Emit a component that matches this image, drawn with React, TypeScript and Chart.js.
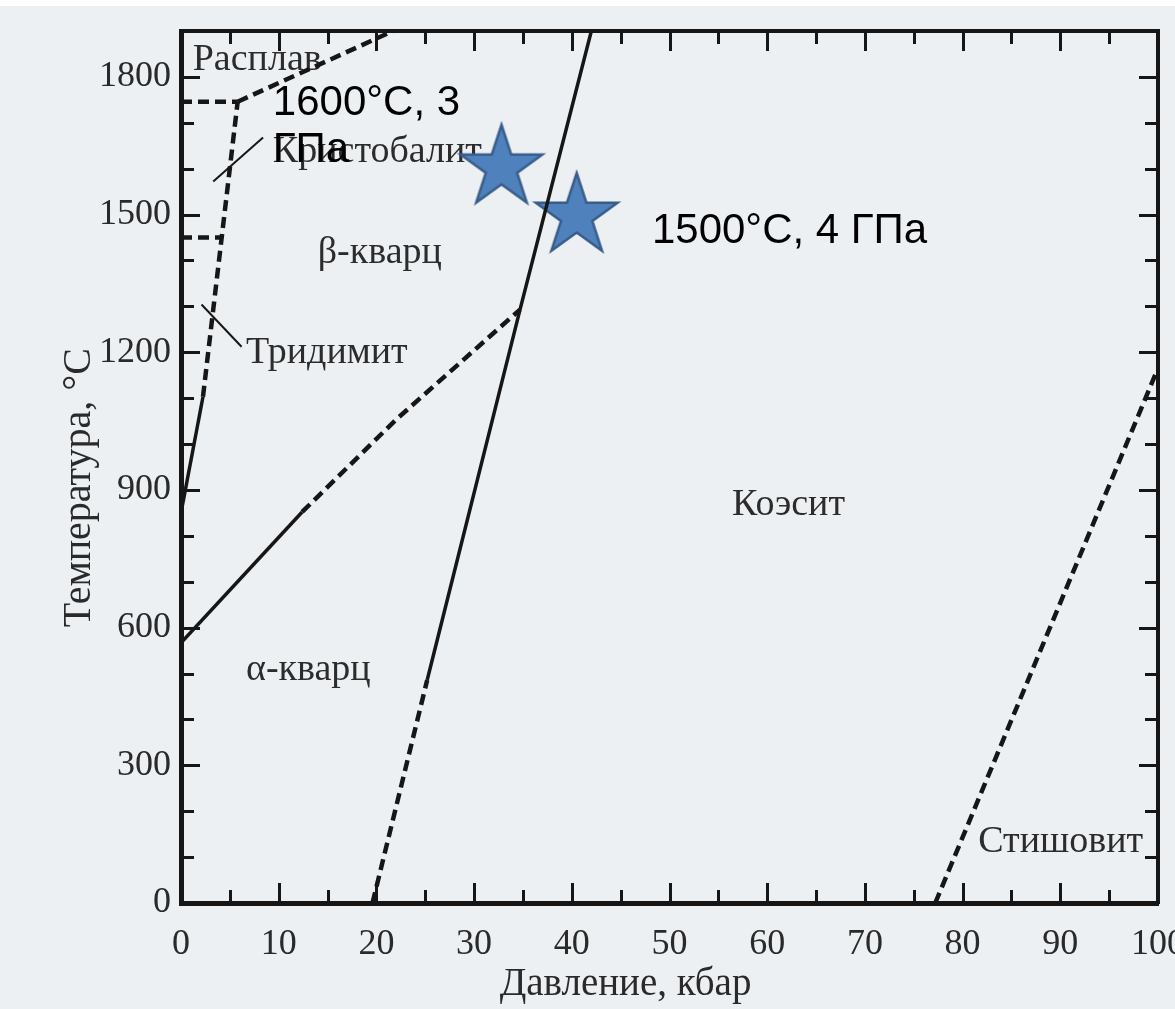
import React, { useEffect, useRef } from 'react';
import { Chart, registerables } from 'chart.js';

Chart.register(...registerables);

// ---- axis ticks ----
const X_TICKS = [0, 10, 20, 30, 40, 50, 60, 70, 80, 90, 100];
const X_MINOR = [5, 15, 25, 35, 45, 55, 65, 75, 85, 95];
const Y_TICKS = [0, 300, 600, 900, 1200, 1500, 1800];
const Y_MINOR = [100, 200, 400, 500, 700, 800, 1000, 1100, 1300, 1400, 1600, 1700];

// ---- phase boundaries (pressure kbar, temperature °C) ----
const coesiteLowP = [19.6, 25.2];
const coesiteLowT = [0, 486];
const coesiteHighP = [25.2, 34.7, 42.0];
const coesiteHighT = [486, 1293, 1900];

const alphaBetaSolidP = [0, 12.4];
const alphaBetaSolidT = [567, 852];
const alphaBetaDashP = [12.4, 22.0, 34.7];
const alphaBetaDashT = [852, 1053, 1293];

const tridymiteSolidP = [0, 2.25];
const tridymiteSolidT = [850, 1103];
const tridymiteDashP = [2.25, 5.8];
const tridymiteDashT = [1103, 1746];

const meltFlatP = [0, 5.8];
const meltFlatT = [1746, 1746];
const meltLineP = [5.8, 21.7];
const meltLineT = [1746, 1900];

const tridCristFlatP = [0, 4.1];
const tridCristFlatT = [1450, 1450];

const stishoviteP = [77.2, 99.8];
const stishoviteT = [0, 1155];

// leader lines of the labels
const leaderCristP = [3.3, 8.4];
const leaderCristT = [1572, 1668];
const leaderTridP = [2.1, 6.2];
const leaderTridT = [1304, 1212];

// ---- experiment points ----
const expP = [32.8, 40.5];
const expT = [1602, 1497];

// ---- phase labels (anchor = left / baseline, in data units) ----
const phaseNames = ['Расплав', 'Кристобалит', 'β-кварц', 'Тридимит', 'α-кварц', 'Коэсит', 'Стишовит'];
const phaseP = [1.2, 9.4, 14.0, 6.65, 6.65, 56.4, 81.6];
const phaseT = [1816, 1615, 1395, 1177, 486, 846, 111];

// ---- overlay notes ----
const noteTexts = ['1600°C, 3', 'ГПа', '1500°C, 4 ГПа'];
const noteP = [9.4, 9.4, 48.2];
const noteT = [1718, 1615, 1439];

const xTitle = 'Давление, кбар';
const yTitle = 'Температура, °С';

const pts = (P: number[], T: number[]) => P.map((p, i) => ({ x: p, y: T[i] }));

const INK = '#161616';

function makeStar(): HTMLCanvasElement {
  const R = 43;
  const r = 16.5;
  const size = 96;
  const c = document.createElement('canvas');
  c.width = size;
  c.height = size;
  const g = c.getContext('2d')!;
  const cx = size / 2;
  const cy = size / 2;
  g.beginPath();
  for (let i = 0; i < 10; i++) {
    const rad = i % 2 ? r : R;
    const a = -Math.PI / 2 + (i * Math.PI) / 5;
    const px = cx + rad * Math.cos(a);
    const py = cy + rad * Math.sin(a);
    if (i === 0) g.moveTo(px, py);
    else g.lineTo(px, py);
  }
  g.closePath();
  g.fillStyle = '#4f81bd';
  g.fill();
  g.lineWidth = 2.5;
  g.lineJoin = 'miter';
  g.strokeStyle = '#385d8a';
  g.stroke();
  return c;
}

const zeroPad = (s: any) => {
  s.paddingTop = 0;
  s.paddingBottom = 0;
  s.paddingLeft = 0;
  s.paddingRight = 0;
};

export default function App() {
  const ref = useRef<HTMLCanvasElement | null>(null);

  useEffect(() => {
    if (!ref.current) return;
    const star = makeStar();

    const solid = (data: any[], w = 3.5) => ({
      data,
      showLine: true,
      borderColor: INK,
      borderWidth: w,
      pointRadius: 0,
      borderCapStyle: 'butt',
      tension: 0,
    });
    const dashed = (data: any[]) => ({
      data,
      showLine: true,
      borderColor: INK,
      borderWidth: 4.5,
      borderDash: [11, 6],
      pointRadius: 0,
      borderCapStyle: 'butt',
      tension: 0,
    });

    const decor = {
      id: 'decor',
      beforeDraw(chart: any) {
        const { ctx, width, height } = chart;
        ctx.save();
        ctx.fillStyle = '#edf0f3';
        ctx.fillRect(0, 0, width, height);
        ctx.fillStyle = '#ffffff';
        ctx.fillRect(0, 0, width, 6);
        ctx.restore();
      },
      beforeDatasetsDraw(chart: any) {
        const { ctx } = chart;
        const xs = chart.scales.x;
        const ys = chart.scales.y;
        ctx.save();
        ctx.fillStyle = '#2c2c2c';
        ctx.font = '38px "Liberation Serif"';
        ctx.textAlign = 'left';
        ctx.textBaseline = 'alphabetic';
        phaseNames.forEach((t, i) => {
          ctx.fillText(t, xs.getPixelForValue(phaseP[i]), ys.getPixelForValue(phaseT[i]));
        });
        ctx.restore();
      },
      afterDatasetsDraw(chart: any) {
        const { ctx, chartArea } = chart;
        const xs = chart.scales.x;
        const ys = chart.scales.y;
        ctx.save();
        // inward tick marks on all four sides
        ctx.strokeStyle = INK;
        ctx.lineWidth = 3;
        const xt = [...X_TICKS.map((v) => [v, 20]), ...X_MINOR.map((v) => [v, 13])];
        xt.forEach(([v, len]) => {
          if (v <= xs.min || v >= xs.max) return;
          const px = Math.round(xs.getPixelForValue(v)) + 0.5;
          ctx.beginPath();
          ctx.moveTo(px, chartArea.bottom);
          ctx.lineTo(px, chartArea.bottom - len);
          ctx.moveTo(px, chartArea.top);
          ctx.lineTo(px, chartArea.top + len);
          ctx.stroke();
        });
        const yt = [...Y_TICKS.map((v) => [v, 19]), ...Y_MINOR.map((v) => [v, 13])];
        yt.forEach(([v, len]) => {
          if (v <= ys.min || v >= ys.max) return;
          const py = Math.round(ys.getPixelForValue(v)) + 0.5;
          ctx.beginPath();
          ctx.moveTo(chartArea.left, py);
          ctx.lineTo(chartArea.left + len, py);
          ctx.moveTo(chartArea.right, py);
          ctx.lineTo(chartArea.right - len, py);
          ctx.stroke();
        });

        // axis titles
        ctx.fillStyle = '#2a2a2a';
        ctx.font = '39px "Liberation Serif"';
        ctx.textAlign = 'center';
        ctx.textBaseline = 'alphabetic';
        ctx.fillText(xTitle, xs.getPixelForValue(45.5), xs.bottom - 14);
        ctx.save();
        ctx.translate(90, ys.getPixelForValue(905));
        ctx.rotate(-Math.PI / 2);
        ctx.font = '40px "Liberation Serif"';
        ctx.fillText(yTitle, 0, 0);
        ctx.restore();

        // overlay notes
        ctx.fillStyle = '#000000';
        ctx.font = '42px "Liberation Sans"';
        ctx.textAlign = 'left';
        noteTexts.forEach((t, i) => {
          ctx.fillText(t, xs.getPixelForValue(noteP[i]), ys.getPixelForValue(noteT[i]));
        });
        ctx.restore();
      },
    };

    const tickFont = { family: '"Liberation Serif"', size: 36 };

    const chart = new Chart(ref.current, {
      type: 'scatter',
      data: {
        datasets: [
          dashed(pts(coesiteLowP, coesiteLowT)),
          solid(pts(coesiteHighP, coesiteHighT)),
          solid(pts(alphaBetaSolidP, alphaBetaSolidT)),
          dashed(pts(alphaBetaDashP, alphaBetaDashT)),
          solid(pts(tridymiteSolidP, tridymiteSolidT)),
          dashed(pts(tridymiteDashP, tridymiteDashT)),
          dashed(pts(meltFlatP, meltFlatT)),
          dashed(pts(meltLineP, meltLineT)),
          dashed(pts(tridCristFlatP, tridCristFlatT)),
          dashed(pts(stishoviteP, stishoviteT)),
          solid(pts(leaderCristP, leaderCristT), 2),
          solid(pts(leaderTridP, leaderTridT), 2),
          {
            data: pts(expP, expT),
            showLine: false,
            pointStyle: star,
            pointRadius: 43,
            pointHoverRadius: 43,
          },
        ] as any,
      },
      options: {
        animation: false,
        responsive: true,
        maintainAspectRatio: false,
        layout: { padding: 0, autoPadding: false },
        plugins: {
          legend: { display: false },
          tooltip: { enabled: false },
          title: { display: false },
        },
        scales: {
          x: {
            type: 'linear',
            position: 'bottom',
            min: 0,
            max: 100,
            afterBuildTicks: (s: any) => {
              s.ticks = X_TICKS.map((v) => ({ value: v }));
            },
            afterFit: (s: any) => {
              s.height = 106;
              zeroPad(s);
            },
            grid: { display: false, drawTicks: false },
            border: { display: true, color: INK, width: 5 },
            ticks: {
              font: tickFont,
              color: '#2a2a2a',
              padding: 20,
              maxRotation: 0,
              autoSkip: false,
              callback: (v: any) => String(v),
            },
          },
          y: {
            type: 'linear',
            position: 'left',
            min: 0,
            max: 1900,
            afterBuildTicks: (s: any) => {
              s.ticks = Y_TICKS.map((v) => ({ value: v }));
            },
            afterFit: (s: any) => {
              s.width = 181;
              zeroPad(s);
            },
            grid: { display: false, drawTicks: false },
            border: { display: true, color: INK, width: 5 },
            ticks: {
              font: tickFont,
              color: '#2a2a2a',
              padding: 10,
              autoSkip: false,
              callback: (v: any) => String(v),
            },
          },
          x2: {
            type: 'linear',
            position: 'top',
            min: 0,
            max: 100,
            afterFit: (s: any) => {
              s.height = 31;
              zeroPad(s);
            },
            grid: { display: false, drawTicks: false },
            border: { display: true, color: INK, width: 4 },
            ticks: { display: false },
          },
          y2: {
            type: 'linear',
            position: 'right',
            min: 0,
            max: 1900,
            afterFit: (s: any) => {
              s.width = 17;
              zeroPad(s);
            },
            grid: { display: false, drawTicks: false },
            border: { display: true, color: INK, width: 4 },
            ticks: { display: false },
          },
        },
      } as any,
      plugins: [decor],
    });

    return () => chart.destroy();
  }, []);

  return (
    <div style={{ position: 'absolute', left: 0, top: 0, width: 1175, height: 1009 }}>
      <canvas ref={ref} />
    </div>
  );
}
